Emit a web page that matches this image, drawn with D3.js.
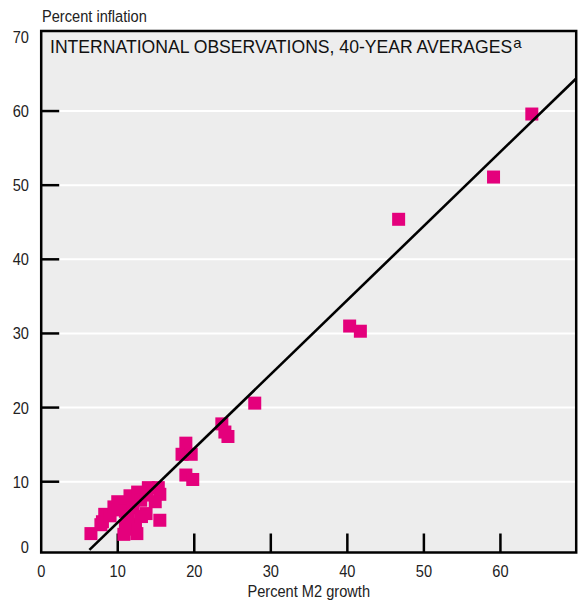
<!DOCTYPE html>
<html>
<head>
<meta charset="utf-8">
<script src="https://cdn.jsdelivr.net/npm/d3@7"></script>
<style>
  html, body { margin: 0; padding: 0; background: #ffffff; }
  svg { display: block; }
  .ax { font-family: "Liberation Sans", Arial, sans-serif; fill: #222; }
  .ttl { font-family: "Liberation Sans", Arial, sans-serif; fill: #111; }
</style>
</head>
<body>
<svg id="chart" width="578" height="603"></svg>
<script>
// ---- Data ----
const m2Growth = [
  64.1, 59.1, 46.7, 40.3, 41.7, 27.9, 23.6, 24.0, 24.4, 18.9, 18.4, 19.6, 18.9, 19.8,
  6.5, 7.8, 8.0, 8.3, 9.0, 9.5, 10.0, 10.0, 10.5, 11.0, 11.6, 12.6, 14.0, 15.3, 15.5,
  14.9, 13.8, 13.0, 12.0, 13.7, 15.5, 12.3, 12.3, 12.5, 10.8, 11.0, 11.4, 13.1
];
const inflation = [
  59.6, 51.1, 45.4, 31.0, 30.3, 20.6, 17.8, 16.7, 16.1, 15.2, 13.7, 13.7, 10.9, 10.3,
  3.0, 4.2, 4.6, 5.6, 5.4, 6.6, 7.3, 6.2, 7.0, 6.0, 8.1, 8.6, 9.2, 9.2, 8.3,
  7.3, 8.2, 7.5, 6.5, 5.7, 4.8, 4.2, 3.6, 3.0, 2.9, 4.1, 5.2, 5.3
];
const fitRange = [6.3, 69.9];
const fitSlope = 1.0;
const fitIntercept = -5.5;
const xTickValues = [0, 10, 20, 30, 40, 50, 60];
const yTickValues = [0, 10, 20, 30, 40, 50, 60, 70];
const titleText = "INTERNATIONAL OBSERVATIONS, 40-YEAR AVERAGES";
const titleNote = "a";
const yAxisTitle = "Percent inflation";
const xAxisTitle = "Percent M2 growth";

// ---- Layout ----
const svg = d3.select("#chart");
const x = d3.scaleLinear().domain([0, 69.9]).range([41.2, 576.2]);
const y = d3.scaleLinear().domain([0.45, 70.8]).range([552.5, 31]);
const [x0, x1] = x.range();
const [y0, y1] = y.range();
const narrow = 0.86;

function condensed(parent, px, py, anchor, size, txt) {
  parent.append("g")
    .attr("transform", `translate(${px},${py}) scale(${narrow},1)`)
    .append("text")
    .attr("class", "ax")
    .attr("text-anchor", anchor)
    .attr("font-size", size)
    .text(txt);
}

// background
svg.append("rect")
  .attr("x", x0).attr("y", y1)
  .attr("width", x1 - x0).attr("height", y0 - y1)
  .attr("fill", "#ededed");

// gridlines
const inner = yTickValues.filter(v => v > 0 && v < 70);
svg.append("g").selectAll("line").data(inner).join("line")
  .attr("x1", x0).attr("x2", x1)
  .attr("y1", d => y(d)).attr("y2", d => y(d))
  .attr("stroke", "#ffffff").attr("stroke-width", 2);

// y ticks (inside)
svg.append("g").selectAll("line").data(inner).join("line")
  .attr("x1", x0).attr("x2", x0 + 18)
  .attr("y1", d => y(d)).attr("y2", d => y(d))
  .attr("stroke", "#000").attr("stroke-width", 2.5);

// x ticks (inside)
const xInner = xTickValues.filter(v => v > 0);
svg.append("g").selectAll("line").data(xInner).join("line")
  .attr("x1", d => x(d)).attr("x2", d => x(d))
  .attr("y1", y0).attr("y2", y0 - 19)
  .attr("stroke", "#000").attr("stroke-width", 2.5);

// points
const pts = m2Growth.map((v, i) => ({ x: v, y: inflation[i] }));
const sz = 13;
svg.append("g").selectAll("rect").data(pts).join("rect")
  .attr("x", d => x(d.x) - sz / 2)
  .attr("y", d => y(d.y) - sz / 2)
  .attr("width", sz).attr("height", sz)
  .attr("fill", "#e4007c");

// fit line
const fitPts = fitRange.map(v => [v, fitSlope * v + fitIntercept]);
svg.append("path")
  .attr("d", d3.line().x(d => x(d[0])).y(d => y(d[1]))(fitPts))
  .attr("stroke", "#000").attr("stroke-width", 2.6).attr("fill", "none");

// frame
svg.append("rect")
  .attr("x", x0).attr("y", y1)
  .attr("width", x1 - x0).attr("height", y0 - y1)
  .attr("fill", "none").attr("stroke", "#000").attr("stroke-width", 2.5);

// y tick labels
const yl = svg.append("g");
yTickValues.forEach(v => {
  condensed(yl, 29, (v === 0 ? y(0) - 9 : y(v)) + 6, "end", 17, v);
});

// x tick labels
const xl = svg.append("g");
xTickValues.forEach(v => {
  condensed(xl, x(v), 577, "middle", 17, v);
});

// axis titles
condensed(svg, 42, 22, "start", 17, yAxisTitle);
condensed(svg, (x0 + x1) / 2, 597, "middle", 17, xAxisTitle);

// chart title inside plot
const t = svg.append("text").attr("class", "ttl")
  .attr("x", 50).attr("y", 53)
  .attr("font-size", 17.6);
t.append("tspan").text(titleText);
t.append("tspan").attr("dx", 1).attr("dy", -5).attr("font-size", 15).text(titleNote);
</script>
</body>
</html>
